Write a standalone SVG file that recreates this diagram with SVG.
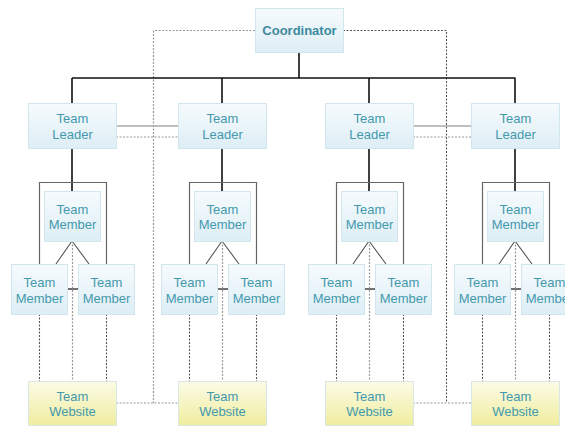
<svg xmlns="http://www.w3.org/2000/svg" width="565" height="426" viewBox="0 0 565 426">
<defs>
<linearGradient id="gBlue" x1="0" y1="0" x2="0" y2="1">
<stop offset="0" stop-color="#f6fbfd"/>
<stop offset="1" stop-color="#ddeef5"/>
</linearGradient>
<linearGradient id="gYel" x1="0" y1="0" x2="0" y2="1">
<stop offset="0" stop-color="#fbfbe6"/>
<stop offset="1" stop-color="#f0ed9f"/>
</linearGradient>
<style>
.box{fill:url(#gBlue);stroke:#d2e6ee;stroke-width:1}
.web{fill:url(#gYel);stroke:#d9e8e6;stroke-width:1}
text{font-family:"Liberation Sans",Arial,sans-serif;font-size:13px;fill:#4499ad;text-anchor:middle}
.bold{font-weight:bold;fill:#3d8a9e}
.tree{fill:none;stroke:#111;stroke-width:1.6}
.brk{fill:none;stroke:#666;stroke-width:1.2}
.diag{fill:none;stroke:#555;stroke-width:1.1}
.tick{fill:none;stroke:#111;stroke-width:1.2}
.dot{fill:none;stroke:#999;stroke-width:1.2;stroke-dasharray:2 1.5}
.dotd{fill:none;stroke:#555;stroke-width:1.1;stroke-dasharray:2 1.5}
.peer{fill:none;stroke:#aaa;stroke-width:1.5}
</style>
</defs>
<rect width="565" height="426" fill="#ffffff"/>

<g id="connectors">
<!-- coordinator dotted links -->
<path class="dot" d="M255,30.5 H153.5 V403"/>
<path class="dotd" d="M343,30.5 H446.5 V403"/>
<path class="dot" d="M116,403 H178"/>
<path class="dot" d="M413,403 H471"/>
<!-- main tree -->
<path class="tree" d="M299,52 V78 M72,78 H515.5 M72,78 V103 M222,78 V103 M369,78 V103 M515,78 V103"/>
<!-- leader peers -->
<path class="peer" d="M116,126 H178"/>
<path class="dot" d="M116,137 H178"/>
<path class="peer" d="M413,126 H471"/>
<path class="dot" d="M413,137 H471"/>

<!-- group 1 -->
<g transform="translate(0,0)">
<path class="tree" d="M72,148 V191"/>
<path class="brk" d="M39.5,264 V182.5 H106.5 V264"/>
<path class="diag" d="M72,241 L56,264 M72,241 L89,264"/>
<path class="tick" d="M67,289 H78"/>
<path class="dotd" d="M39.5,314 V381 M106.5,314 V381"/>
<path class="dot" d="M72.5,241 V381"/>
</g>
<g transform="translate(150,0)">
<path class="tree" d="M72,148 V191"/>
<path class="brk" d="M39.5,264 V182.5 H106.5 V264"/>
<path class="diag" d="M72,241 L56,264 M72,241 L89,264"/>
<path class="tick" d="M67,289 H78"/>
<path class="dotd" d="M39.5,314 V381 M106.5,314 V381"/>
<path class="dot" d="M72.5,241 V381"/>
</g>
<g transform="translate(297,0)">
<path class="tree" d="M72,148 V191"/>
<path class="brk" d="M39.5,264 V182.5 H106.5 V264"/>
<path class="diag" d="M72,241 L56,264 M72,241 L89,264"/>
<path class="tick" d="M67,289 H78"/>
<path class="dotd" d="M39.5,314 V381 M106.5,314 V381"/>
<path class="dot" d="M72.5,241 V381"/>
</g>
<g transform="translate(443,0)">
<path class="tree" d="M72,148 V191"/>
<path class="brk" d="M39.5,264 V182.5 H106.5 V264"/>
<path class="diag" d="M72,241 L56,264 M72,241 L89,264"/>
<path class="tick" d="M67,289 H78"/>
<path class="dotd" d="M39.5,314 V381 M106.5,314 V381"/>
<path class="dot" d="M72.5,241 V381"/>
</g>
</g>

<g id="coordinator">
<rect class="box" x="255.5" y="8.5" width="88" height="44"/>
<text class="bold" x="299.5" y="35">Coordinator</text>
</g>

<g id="leader1"><rect class="box" x="28.5" y="103.5" width="88" height="45"/><text x="72.5" y="123">Team</text><text x="72.5" y="138.5">Leader</text></g>
<g id="leader2"><rect class="box" x="178.5" y="103.5" width="88" height="45"/><text x="222.5" y="123">Team</text><text x="222.5" y="138.5">Leader</text></g>
<g id="leader3"><rect class="box" x="325.5" y="103.5" width="88" height="45"/><text x="369.5" y="123">Team</text><text x="369.5" y="138.5">Leader</text></g>
<g id="leader4"><rect class="box" x="471.5" y="103.5" width="88" height="45"/><text x="515.5" y="123">Team</text><text x="515.5" y="138.5">Leader</text></g>

<g id="member1a"><rect class="box" x="44.5" y="191.5" width="56" height="50"/><text x="72.5" y="213.5">Team</text><text x="72.5" y="229">Member</text></g>
<g id="member1b"><rect class="box" x="11.5" y="264.5" width="56" height="50"/><text x="39.5" y="287">Team</text><text x="39.5" y="302.5">Member</text></g>
<g id="member1c"><rect class="box" x="78.5" y="264.5" width="56" height="50"/><text x="106.5" y="287">Team</text><text x="106.5" y="302.5">Member</text></g>

<g id="member2a"><rect class="box" x="194.5" y="191.5" width="56" height="50"/><text x="222.5" y="213.5">Team</text><text x="222.5" y="229">Member</text></g>
<g id="member2b"><rect class="box" x="161.5" y="264.5" width="56" height="50"/><text x="189.5" y="287">Team</text><text x="189.5" y="302.5">Member</text></g>
<g id="member2c"><rect class="box" x="228.5" y="264.5" width="56" height="50"/><text x="256.5" y="287">Team</text><text x="256.5" y="302.5">Member</text></g>

<g id="member3a"><rect class="box" x="341.5" y="191.5" width="56" height="50"/><text x="369.5" y="213.5">Team</text><text x="369.5" y="229">Member</text></g>
<g id="member3b"><rect class="box" x="308.5" y="264.5" width="56" height="50"/><text x="336.5" y="287">Team</text><text x="336.5" y="302.5">Member</text></g>
<g id="member3c"><rect class="box" x="375.5" y="264.5" width="56" height="50"/><text x="403.5" y="287">Team</text><text x="403.5" y="302.5">Member</text></g>

<g id="member4a"><rect class="box" x="487.5" y="191.5" width="56" height="50"/><text x="515.5" y="213.5">Team</text><text x="515.5" y="229">Member</text></g>
<g id="member4b"><rect class="box" x="454.5" y="264.5" width="56" height="50"/><text x="482.5" y="287">Team</text><text x="482.5" y="302.5">Member</text></g>
<g id="member4c"><rect class="box" x="521.5" y="264.5" width="56" height="50"/><text x="549.5" y="287">Team</text><text x="549.5" y="302.5">Member</text></g>

<g id="website1"><rect class="web" x="28.5" y="381.5" width="88" height="44"/><text x="72.5" y="400.5">Team</text><text x="72.5" y="416">Website</text></g>
<g id="website2"><rect class="web" x="178.5" y="381.5" width="88" height="44"/><text x="222.5" y="400.5">Team</text><text x="222.5" y="416">Website</text></g>
<g id="website3"><rect class="web" x="325.5" y="381.5" width="88" height="44"/><text x="369.5" y="400.5">Team</text><text x="369.5" y="416">Website</text></g>
<g id="website4"><rect class="web" x="471.5" y="381.5" width="88" height="44"/><text x="515.5" y="400.5">Team</text><text x="515.5" y="416">Website</text></g>
</svg>
